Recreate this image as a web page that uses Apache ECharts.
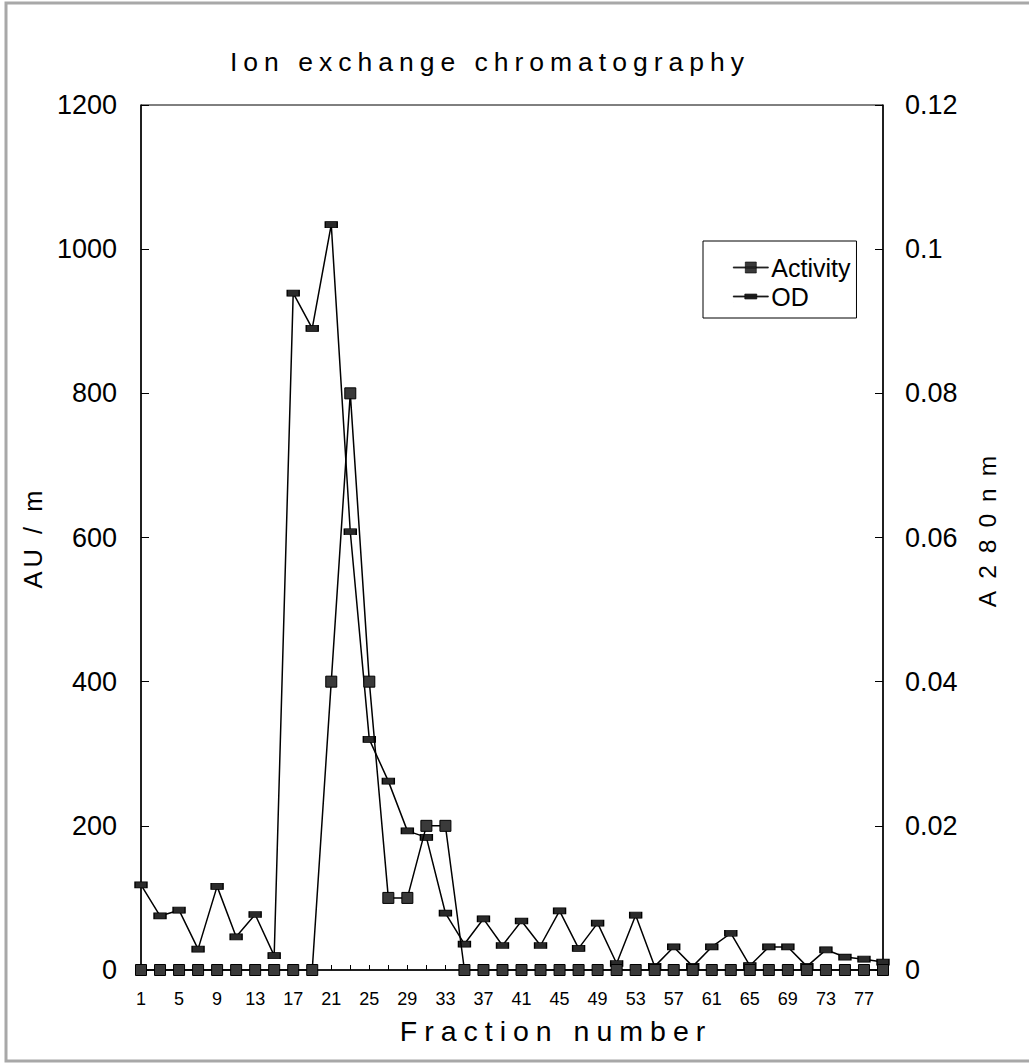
<!DOCTYPE html>
<html>
<head>
<meta charset="utf-8">
<script src="https://cdn.jsdelivr.net/npm/echarts@6/dist/echarts.min.js"></script>
<style>
  html, body { margin: 0; padding: 0; background: #fff; }
  #chart { width: 1029px; height: 1064px; }
  #chart text[style*="26.5px"] { letter-spacing: 6px; }
  #chart text[style*="28.5px"] { letter-spacing: 7px; }
  #chart text[style*="25.5px"] { letter-spacing: 4px; }
  #chart text[style*="24.5px"] { letter-spacing: 12px; }
</style>
</head>
<body>
<div id="chart"></div>
<script>
// Fraction numbers (every second fraction was measured)
const fractions = ['1','3','5','7','9','11','13','15','17','19','21','23','25','27','29','31','33','35','37','39',
                   '41','43','45','47','49','51','53','55','57','59','61','63','65','67','69','71','73','75','77','79'];
// Activity (AU/m), left axis
const activity = [0,0,0,0,0,0,0,0,0,0,400,800,400,100,100,200,200,0,0,0,
                  0,0,0,0,0,0,0,0,0,0,0,0,0,0,0,0,0,0,0,0];
// OD at 280 nm, right axis
const od = [0.0118,0.0075,0.0083,0.0029,0.0116,0.0046,0.0077,0.0020,0.0939,0.0890,
            0.1034,0.0608,0.0320,0.0262,0.0193,0.0184,0.0079,0.0036,0.0071,0.0034,
            0.0068,0.0034,0.0082,0.0030,0.0065,0.0009,0.0076,0.0005,0.0032,0.0005,
            0.0032,0.0051,0.0006,0.0032,0.0032,0.0005,0.0028,0.0018,0.0015,0.0011];
const leftTicks = { min: 0, max: 1200, interval: 200 };
const rightTicks = { min: 0, max: 0.12, interval: 0.02 };

const FONT = 'Liberation Sans';
// legend icons: line with the series marker in the middle
const ICON_ACTIVITY = 'path://M0,5.4H35V6.6H0Z M12,0.5H23V11.5H12Z';
const ICON_OD = 'path://M0,0H0.01V0.01H0Z M0,11.99H0.01V12H0Z M0,5.4H35V6.6H0Z M11.5,3.5H23.5V8.5H11.5Z';

const chart = echarts.init(document.getElementById('chart'), null, { renderer: 'svg' });
chart.setOption({
  backgroundColor: '#fff',
  animation: false,
  textStyle: { fontFamily: FONT, color: '#000' },
  title: {
    text: 'Ion exchange chromatography',
    left: 230,
    top: 48,
    padding: 0,
    textStyle: { fontFamily: FONT, fontSize: 26.5, fontWeight: 'normal', color: '#000' }
  },
  graphic: [{
    type: 'rect',
    shape: { x: 6, y: 3, width: 1040, height: 1058 },
    style: { fill: 'none', stroke: '#a8a8a8', lineWidth: 3 },
    silent: true
  }],
  legend: {
    orient: 'vertical',
    left: 703,
    top: 241,
    padding: [14, 6, 9, 30],
    itemGap: 4,
    itemWidth: 35,
    itemHeight: 12,
    borderColor: '#000',
    borderWidth: 1,
    backgroundColor: '#fff',
    textStyle: { fontFamily: FONT, fontSize: 25, color: '#000', padding: [0, 0, 0, -2] },
    data: [
      { name: 'Activity', icon: ICON_ACTIVITY, itemStyle: { color: '#3a3a3a', borderColor: '#000', borderWidth: 0.6 } },
      { name: 'OD', icon: ICON_OD, itemStyle: { color: '#2a2a2a', borderColor: '#000', borderWidth: 0.6 } }
    ]
  },
  grid: {
    left: 141, right: 146, top: 105, bottom: 94,
    show: true, borderColor: '#000', borderWidth: 1
  },
  xAxis: {
    type: 'category',
    data: fractions,
    boundaryGap: false,
    axisLine: { lineStyle: { color: '#000', width: 1.5 } },
    axisTick: { inside: true, length: 5, interval: 0, lineStyle: { color: '#000' } },
    axisLabel: { interval: 1, fontFamily: FONT, fontSize: 18, color: '#000', margin: 20 },
    splitLine: { show: false },
    name: 'Fraction number',
    nameLocation: 'middle',
    nameGap: 46,
    nameTextStyle: { fontFamily: FONT, fontSize: 28.5, color: '#000', padding: [0, 0, 0, 88] }
  },
  yAxis: [{
    type: 'value',
    min: leftTicks.min, max: leftTicks.max, interval: leftTicks.interval,
    axisLine: { show: true, lineStyle: { color: '#000', width: 1.5 } },
    axisTick: { show: true, inside: true, length: 8, lineStyle: { color: '#000' } },
    axisLabel: { fontFamily: FONT, fontSize: 27, color: '#000', margin: 24, formatter: v => String(v) },
    splitLine: { show: false },
    name: 'AU / m',
    nameLocation: 'middle',
    nameRotate: 90,
    nameGap: 92,
    nameTextStyle: { fontFamily: FONT, fontSize: 25.5, color: '#000' }
  }, {
    type: 'value',
    position: 'right',
    min: rightTicks.min, max: rightTicks.max, interval: rightTicks.interval,
    axisLine: { show: true, lineStyle: { color: '#000', width: 1.5 } },
    axisTick: { show: true, inside: true, length: 8, lineStyle: { color: '#000' } },
    axisLabel: { fontFamily: FONT, fontSize: 27, color: '#000', margin: 22 },
    splitLine: { show: false },
    name: 'A280nm',
    nameLocation: 'middle',
    nameRotate: 90,
    nameGap: 92,
    nameTextStyle: { fontFamily: FONT, fontSize: 24.5, color: '#000', padding: [0, 0, 0, 24] }
  }],
  series: [{
    name: 'OD',
    type: 'line',
    yAxisIndex: 1,
    data: od,
    symbol: 'rect',
    symbolSize: [12, 6],
    z: 2,
    lineStyle: { color: '#000', width: 1.5 },
    itemStyle: { color: '#2a2a2a', borderColor: '#000', borderWidth: 1 }
  }, {
    name: 'Activity',
    type: 'line',
    yAxisIndex: 0,
    data: activity,
    symbol: 'rect',
    symbolSize: 11,
    z: 3,
    lineStyle: { color: '#000', width: 1.5 },
    itemStyle: { color: '#3a3a3a', borderColor: '#000', borderWidth: 1 }
  }]
});
</script>
</body>
</html>
